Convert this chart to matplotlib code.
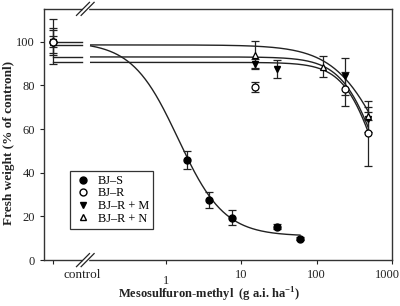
import numpy as np
import matplotlib
matplotlib.use('Agg')
import matplotlib.pyplot as plt
import matplotlib.transforms as mtransforms

plt.rcParams['font.family'] = ['Liberation Serif', 'DejaVu Serif']
plt.rcParams['mathtext.fontset'] = 'custom'
plt.rcParams['mathtext.rm'] = 'Liberation Serif'
plt.rcParams['mathtext.bf'] = 'Liberation Serif:bold'

# control position on the log axis (left of the break)
control_x = 0.0316

# BJ-S
dose_s = [1.875, 3.75, 7.5, 30, 60]
fw_s = [45.9, 27.4, 19.4, 15.3, 9.8]
err_s = [4.2, 3.6, 3.5, 1.0, 0.6]
ctrl_s, ctrl_err_s = 100, 10.4

# BJ-R
dose_r = [15, 240, 480]
fw_r = [79.2, 78.4, 58.0]
err_r = [2.4, 7.8, 15.0]
ctrl_r, ctrl_err_r = 100, 2.4

# BJ-R + M
dose_m = [15, 30, 240, 480]
fw_m = [89.8, 87.6, 84.1, 64.5]
err_m = [2.3, 4.2, 8.4, 5.7]
ctrl_m, ctrl_err_m = 100, 5.3

# BJ-R + N
dose_n = [15, 120, 480]
fw_n = [94.0, 88.4, 66.0]
err_n = [6.2, 4.8, 2.0]
ctrl_n, ctrl_err_n = 100, 6.3

# fitted log-logistic curves: upper, lower, ED50, slope, max dose
fit_s = (100.0, 11.0, 1.45, 1.42, 60)
fit_n = (98.5, 0.0, 920.0, 1.25, 480)
fit_m = (93.0, 0.0, 694.0, 1.75, 480)
fit_r = (90.5, 0.0, 666.0, 1.9, 480)


def loglogistic(x, d, c, e, b):
    return c + (d - c) / (1 + (x / e) ** b)


fig = plt.figure(figsize=(4, 3.06), dpi=100)
ax = fig.add_axes([0.11, 0.150, 0.870, 0.821])
ax.set_xscale('log')

# curves
for d, c, e, b, xmax in [fit_s, fit_n, fit_m, fit_r]:
    xs = np.logspace(-1, np.log10(xmax), 300)
    ax.plot(xs, loglogistic(xs, d, c, e, b), color='#222222', lw=1.0, zorder=2)
    ax.plot([control_x, 0.077], [d, d], color='#222222', lw=1.0, zorder=2)

eb = dict(color='#222222', elinewidth=0.9, capsize=3, capthick=0.9, ls='none', zorder=3)
ax.errorbar(dose_s + [control_x], fw_s + [ctrl_s], yerr=err_s + [ctrl_err_s],
            marker='o', ms=5, mfc='black', mec='black', **eb)
ax.errorbar(dose_m + [control_x], fw_m + [ctrl_m], yerr=err_m + [ctrl_err_m],
            marker='v', ms=5, mfc='black', mec='black', **eb)
ax.errorbar(dose_n + [control_x], fw_n + [ctrl_n], yerr=err_n + [ctrl_err_n],
            marker='^', ms=5, mfc='white', mec='black', mew=0.9, **eb)
ax.errorbar(dose_r + [control_x], fw_r + [ctrl_r], yerr=err_r + [ctrl_err_r],
            marker='o', ms=5, mfc='white', mec='black', mew=0.9, **eb)

ax.set_xlim(0.024, 1000)
ax.set_ylim(0, 115)
ax.set_xticks([control_x, 1, 10, 100, 1000])
ax.set_xticklabels(['', '1', '10', '100', '1000'])
ax.minorticks_off()
ax.set_yticks([0, 20, 40, 60, 80, 100])
ax.tick_params(direction='out', length=3, width=0.8, labelsize=9, colors='#222222')
for sp in ax.spines.values():
    sp.set_color('#333333')
    sp.set_linewidth(1.0)

# "1" label sits a little lower in the original, "1000" a little to the left
xlabs = ax.get_xticklabels()
xlabs[1].set_transform(xlabs[1].get_transform() + mtransforms.ScaledTranslation(0, -4 / 72, fig.dpi_scale_trans))
xlabs[4].set_transform(xlabs[4].get_transform() + mtransforms.ScaledTranslation(-3 / 72, 0, fig.dpi_scale_trans))

ax.text(0.077, -0.035, 'control', transform=ax.get_xaxis_transform(),
        ha='center', va='top', fontsize=9.5, color='#222222')

# axis break marks
trans = ax.get_xaxis_transform()
for yb in (0, 1):
    ax.fill_between([0.079, 0.091], yb - 0.008, yb + 0.008, transform=trans,
                    color='white', clip_on=False, zorder=5)
    for xc in (0.079, 0.091):
        ax.plot([xc * 0.82, xc * 1.22], [yb - 0.026, yb + 0.026], transform=trans,
                color='#222222', lw=0.9, clip_on=False, zorder=6)

fig.text(0.5225, 0.035, 'Mesosulfuron-methyl  (g a.i. ha$^{\\mathbf{-1}}$)', fontsize=9,
         fontweight='bold', ha='center', va='center', color='#222222')
fig.text(0.022, 0.533, 'Fresh weight (% of contronl)', fontsize=9.5, fontweight='bold',
         rotation=90, ha='center', va='center', color='#222222')

h = [
    plt.Line2D([], [], marker='o', ls='none', ms=5, mfc='black', mec='black'),
    plt.Line2D([], [], marker='o', ls='none', ms=5, mfc='white', mec='black'),
    plt.Line2D([], [], marker='v', ls='none', ms=5, mfc='black', mec='black'),
    plt.Line2D([], [], marker='^', ls='none', ms=5, mfc='white', mec='black'),
]
leg = ax.legend(h, ['BJ\u2013S', 'BJ\u2013R', 'BJ\u2013R + M', 'BJ\u2013R + N'],
                loc='lower left', bbox_to_anchor=(0.075, 0.124), borderaxespad=0,
                fontsize=8.8, fancybox=False, edgecolor='#333333', framealpha=1,
                handletextpad=0.5, labelspacing=0.05, borderpad=0.35, handlelength=1.4)
leg.get_frame().set_linewidth(0.9)

fig.savefig('out.png', dpi=100)
